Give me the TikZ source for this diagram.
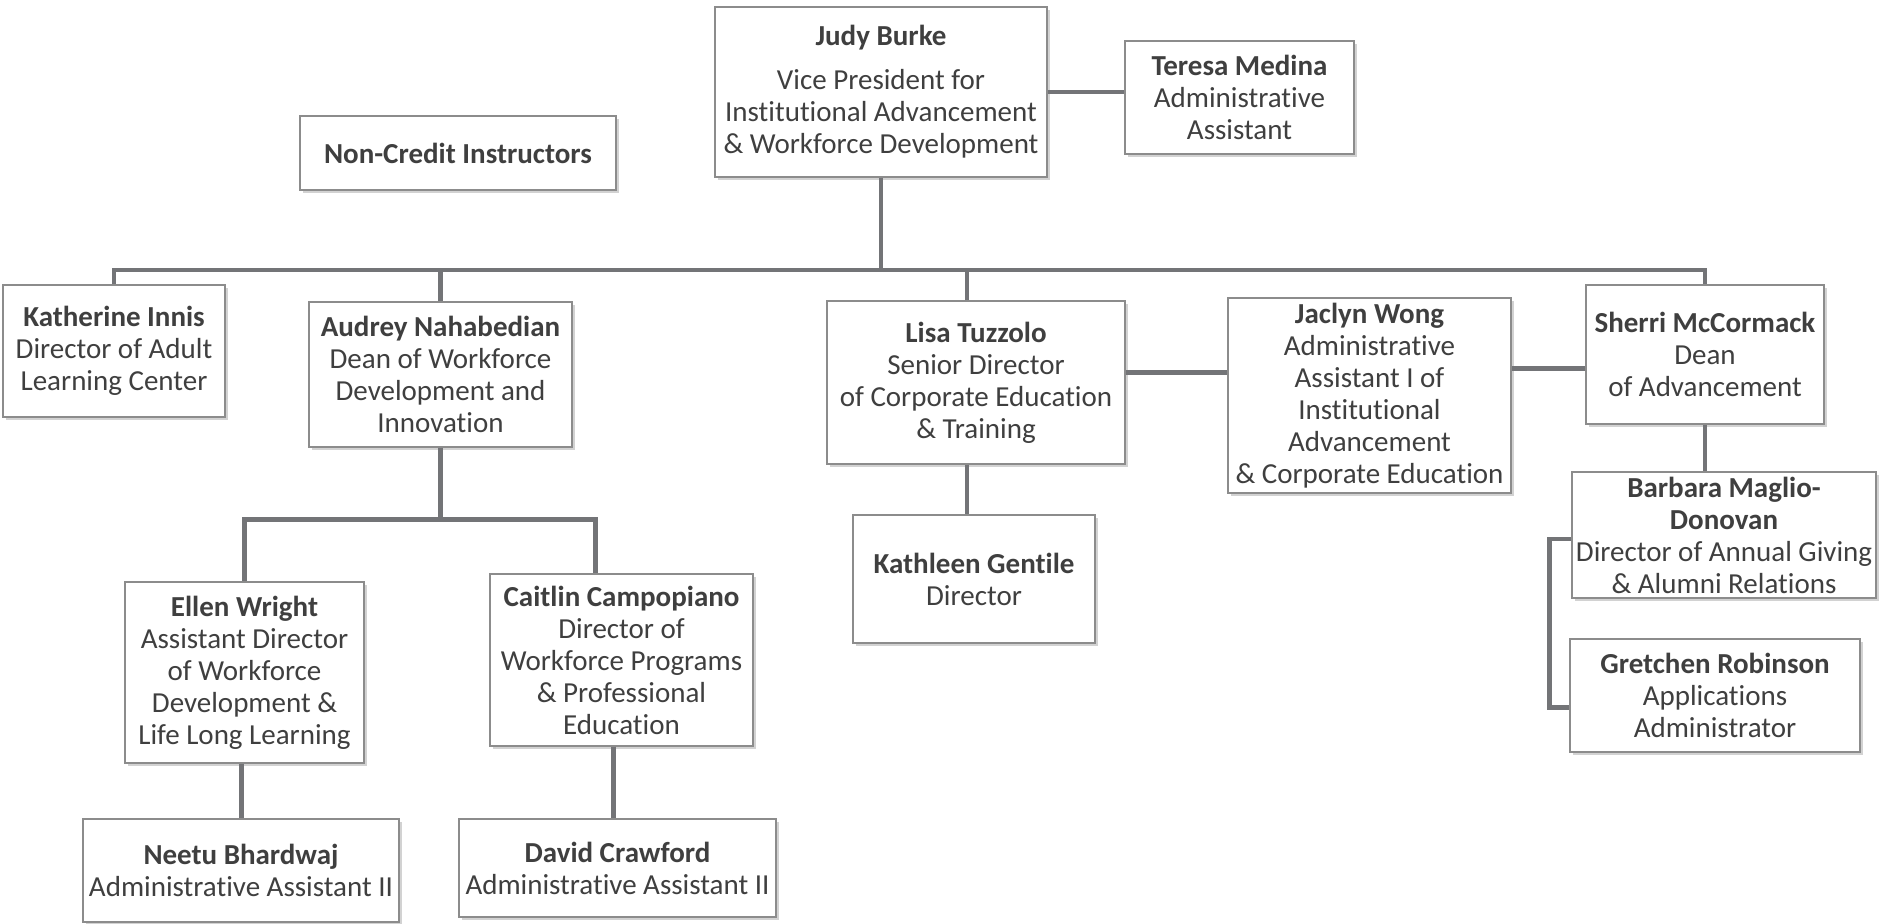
\documentclass[tikz,border=0pt]{standalone}
\usepackage{fontspec}
\setmainfont[Ligatures=NoCommon]{Carlito}
\usetikzlibrary{shadows}
\definecolor{linegray}{HTML}{737477}
\definecolor{boxgray}{HTML}{8C8C8C}
\definecolor{textgray}{HTML}{3F3F3F}

\begin{document}
\begin{tikzpicture}[x=0.5pt,y=-0.5pt,
		box/.style={draw=boxgray, line width=0.6pt, fill=white, align=center, inner sep=0pt,
			text=textgray, font=\fontsize{14.5}{16}\selectfont,
			drop shadow={shadow xshift=1.5pt, shadow yshift=-1.5pt, fill=black!35}},
		sz/.style 2 args={minimum width=#1*0.5pt, minimum height=#2*0.5pt},
		link/.style={draw=linegray, line width=2.3pt}]
		\fill[white] (0,0) rectangle (1879,923);
		\useasboundingbox (0,0) rectangle (1879,923);
		%top
		\node[box, sz={332}{170}] (judy) at (881,92) {\textbf{Judy Burke}\\[6pt]Vice President for\\Institutional Advancement\\\& Workforce Development};
		\node[box, sz={229}{113}] (teresa) at (1239.5,97.5) {\textbf{Teresa Medina}\\Administrative\\Assistant};
		\node[box, sz={316}{74}] (noncredit) at (458,153) {\textbf{Non-Credit Instructors}};
		%second row
		\node[box, sz={222}{132}] (innis) at (114,351) {\textbf{Katherine Innis}\\Director of Adult\\Learning Center};
		\node[box, sz={263}{145}] (audrey) at (440.5,374.5) {\textbf{Audrey Nahabedian}\\Dean of Workforce\\Development and\\Innovation};
		\node[box, sz={298}{163}] (lisa) at (976,382.5) {\textbf{Lisa Tuzzolo}\\Senior Director\\of Corporate Education\\\& Training};
		\node[box, sz={283}{195}] (jaclyn) at (1369.5,395.5) {\textbf{Jaclyn Wong}\\Administrative\\Assistant I of\\Institutional\\Advancement\\\& Corporate Education};
		\node[box, sz={238}{139}] (sherri) at (1705,354.5) {\textbf{Sherri McCormack}\\Dean\\of Advancement};
		%third row
		\node[box, sz={242}{128}] (gentile) at (974,579) {\textbf{Kathleen Gentile}\\Director};
		\node[box, sz={304}{126}] (barbara) at (1724,535) {\textbf{Barbara Maglio-}\\\textbf{Donovan}\\Director of Annual Giving\\\& Alumni Relations};
		\node[box, sz={290}{113}] (gretchen) at (1715,695.5) {\textbf{Gretchen Robinson}\\Applications\\Administrator};
		\node[box, sz={239}{181}] (ellen) at (244.5,672.5) {\textbf{Ellen Wright}\\Assistant Director\\of Workforce\\Development \&\\Life Long Learning};
		\node[box, sz={263}{172}] (caitlin) at (621.5,660) {\textbf{Caitlin Campopiano}\\Director of\\Workforce Programs\\\& Professional\\Education};
		%bottom
		\node[box, sz={316}{103}] (neetu) at (241,870.5) {\textbf{Neetu Bhardwaj}\\Administrative Assistant II};
		\node[box, sz={317}{98}] (david) at (617.5,868) {\textbf{David Crawford}\\Administrative Assistant II};
		%lines
		\coordinate (bus) at (881,270);
		\draw[link] (judy.south) -- (bus);
		\draw[link] (innis.north) |- (bus) -| (sherri.north);
		\draw[link] (audrey.north) -- (audrey.north |- bus);
		\draw[link] ([xshift=-4.5pt]lisa.north) -- ([xshift=-4.5pt]lisa.north |- bus);
		\draw[link] (judy.east) -- (judy.east -| teresa.west);
		\draw[link] ([yshift=5pt]lisa.east) -- ([yshift=5pt]lisa.east -| jaclyn.west);
		\draw[link] ([yshift=-7pt]sherri.west) -- ([yshift=-7pt]sherri.west -| jaclyn.east);
		\draw[link] ([xshift=-4.5pt]lisa.south) -- ([xshift=-4.5pt]lisa.south |- gentile.north);
		\draw[link] (audrey.south) -- ([yshift=-36pt]audrey.south);
		\draw[link] (ellen.north) |- ([yshift=-36pt]audrey.south) -| ([xshift=-13pt]caitlin.north);
		\draw[link] ([xshift=-1.5pt]ellen.south) -- ([xshift=-1.5pt]ellen.south |- neetu.north);
		\draw[link] ([xshift=-4pt]caitlin.south) -- ([xshift=-4pt]caitlin.south |- david.north);
		\draw[link] (sherri.south) -- (sherri.south |- barbara.north);
		\draw[link] ([yshift=-2pt]barbara.west) -- ++(-22,0) |- ([yshift=-6pt]gretchen.west);
	\end{tikzpicture}
\end{document}
